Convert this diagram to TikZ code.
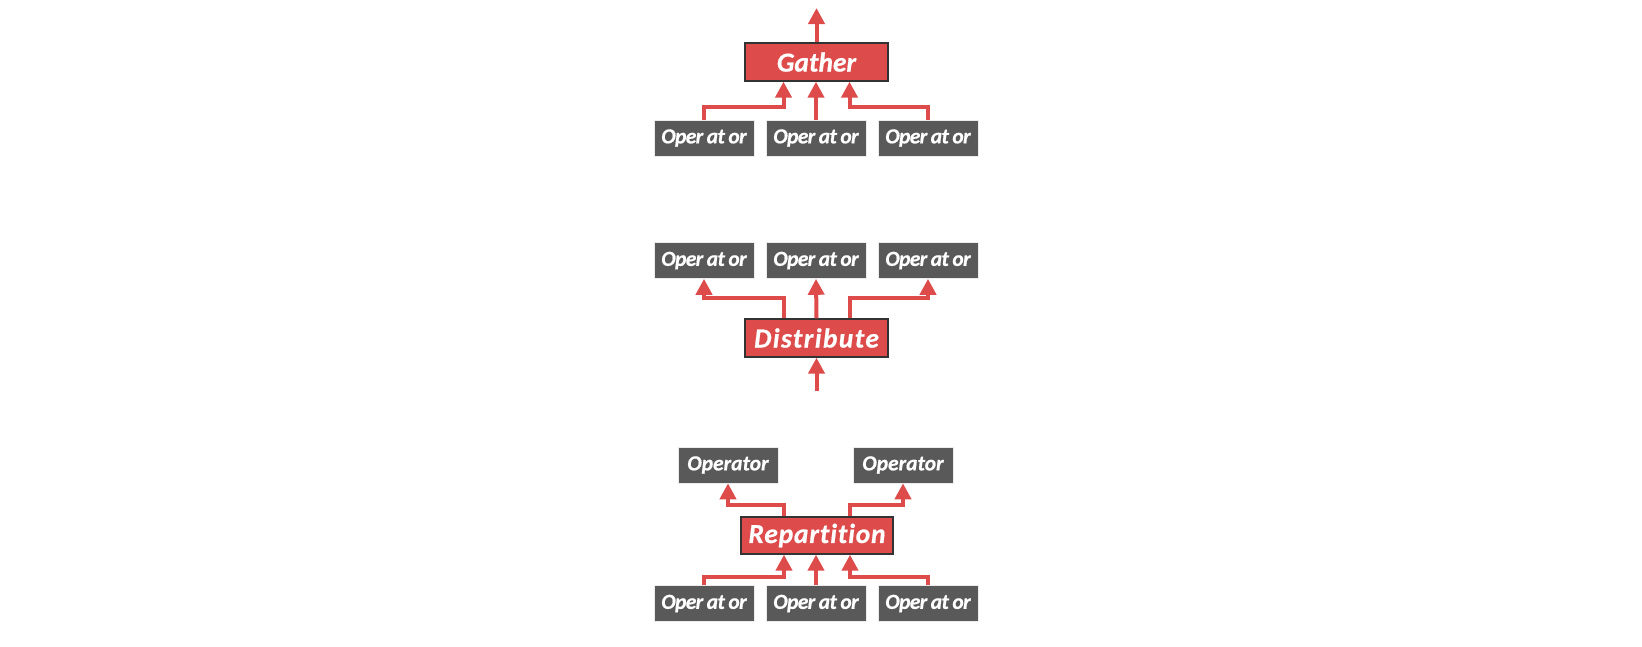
\documentclass[tikz,border=0pt]{standalone}
\usepackage{fontspec}
\setmainfont{Carlito}
\newfontfamily\opfont[BoldItalicFeatures={FakeBold=0.6}]{Carlito}
\newfontfamily\opcondfont[LetterSpace=-3,BoldItalicFeatures={FakeBold=0.6}]{Carlito}
\newfontfamily\gatherfont[BoldItalicFeatures={FakeBold=0.6}]{Carlito}
\newfontfamily\spacedA[LetterSpace=5,Ligatures=NoCommon,BoldItalicFeatures={FakeBold=0.6}]{Carlito}
\newfontfamily\spacedB[LetterSpace=3,Ligatures=NoCommon,BoldItalicFeatures={FakeBold=0.6}]{Carlito}
\newcommand\tightsp{\spaceskip=3.5pt\relax}
\usetikzlibrary{arrows.meta}
\definecolor{redbox}{HTML}{DD4B4B}
\definecolor{graybox}{HTML}{595959}
\definecolor{redline}{HTML}{DD4B4B}
\tikzset{
  opbox/.style={fill=graybox, draw=white!85!gray, line width=0.6pt, minimum width=100pt, minimum height=36pt, inner sep=0pt, text=white, font=\opcondfont\fontsize{21.5}{23}\selectfont\bfseries\itshape\tightsp},
  opwide/.style={opbox, font=\opfont\fontsize{21.5}{23}\selectfont\bfseries\itshape},
  redbx/.style={fill=redbox, draw=black!80, line width=1.3pt, minimum height=38pt, inner sep=0pt, text=white, font=\fontsize{27.5}{29}\selectfont\bfseries\itshape},
  arr/.style={draw=redline, line width=4pt, -{Triangle[length=16pt,width=16pt]}},
}
\begin{document}
\begin{tikzpicture}[x=1pt,y=-1pt]
\useasboundingbox (0,0) rectangle (1642,646);
% ---------- Gather ----------
\node[redbx, minimum width=143pt] (gather) at (816.5,62) {\gatherfont\bfseries\itshape Gather};
\node[opbox] (g1) at (704,138) {Oper at or};
\node[opbox] (g2) at (816,138) {Oper at or};
\node[opbox] (g3) at (928,138) {Oper at or};
\coordinate (gout) at (816.5,8);
\draw[arr] (gather.north) -- (gout);
\draw[arr] (g1.north) |- ([xshift=-33pt,yshift=-25pt]gather.south) -- ([xshift=-33pt]gather.south);
\draw[arr] (g2.north) -- (g2.north |- gather.south);
\draw[arr] (g3.north) |- ([xshift=33pt,yshift=-25pt]gather.south) -- ([xshift=33pt]gather.south);
% ---------- Distribute ----------
\node[redbx, minimum width=143pt] (dist) at (816.5,338) {\spacedA\bfseries\itshape Distribute};
\node[opbox] (d1) at (704,260.5) {Oper at or};
\node[opbox] (d2) at (816,260.5) {Oper at or};
\node[opbox] (d3) at (928,260.5) {Oper at or};
\coordinate (din) at (816.5,391);
\draw[arr] (din) -- (dist.south);
\draw[arr] ([xshift=-33pt]dist.north) |- ([yshift=-19pt]d1.south) -- (d1.south);
\draw[arr] (dist.north) -- (d2.south);
\draw[arr] ([xshift=33pt]dist.north) |- ([yshift=-19pt]d3.south) -- (d3.south);
% ---------- Repartition ----------
\node[redbx, minimum width=152pt, minimum height=37pt] (rep) at (817,535.5) {\spacedB\bfseries\itshape Repartition};
\node[opwide] (r1) at (728,465) {Operator};
\node[opwide] (r2) at (903,465) {Operator};
\node[opbox] (b1) at (704,603.5) {Oper at or};
\node[opbox] (b2) at (816,603.5) {Oper at or};
\node[opbox] (b3) at (928,603.5) {Oper at or};
\draw[arr] ([xshift=-33pt]rep.north) |- ([yshift=-22pt]r1.south) -- (r1.south);
\draw[arr] ([xshift=33pt]rep.north) |- ([yshift=-22pt]r2.south) -- (r2.south);
\draw[arr] (b1.north) |- ([xshift=-33pt,yshift=-22pt]rep.south) -- ([xshift=-33pt]rep.south);
\draw[arr] (b2.north) -- (b2.north |- rep.south);
\draw[arr] (b3.north) |- ([xshift=33pt,yshift=-22pt]rep.south) -- ([xshift=33pt]rep.south);
\end{tikzpicture}
\end{document}
